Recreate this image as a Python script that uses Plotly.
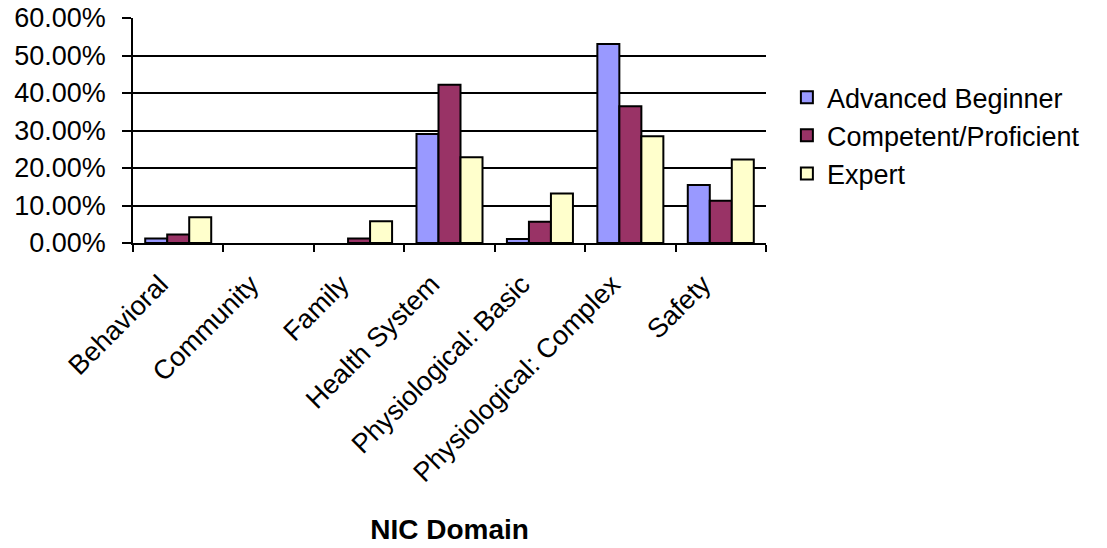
import plotly.graph_objects as go

categories = ["Behavioral", "Community", "Family", "Health System",
              "Physiological: Basic", "Physiological: Complex", "Safety"]
advanced_beginner = [0.012, 0.0, 0.0, 0.291, 0.011, 0.531, 0.155]
competent_proficient = [0.023, 0.0, 0.012, 0.422, 0.057, 0.365, 0.113]
expert = [0.069, 0.0, 0.058, 0.229, 0.132, 0.285, 0.223]
series_names = ["Advanced Beginner", "Competent/Proficient", "Expert"]
y_ticks = [0, 0.1, 0.2, 0.3, 0.4, 0.5, 0.6]

colors = ["#9999FF", "#993366", "#FFFFCC"]
font_family = "Liberation Sans, Arial, sans-serif"
FS = 27

fig = go.Figure()
for name, vals, col in zip(series_names, [advanced_beginner, competent_proficient, expert], colors):
    widths = [2 if v > 0 else 0 for v in vals]
    fig.add_trace(go.Bar(
        x=categories, y=vals, name=name, legendgroup=name,
        marker=dict(color=col, line=dict(color="black", width=widths)),
    ))

fig.update_layout(
    width=1107, height=548,
    margin=dict(l=133, r=341, t=18, b=305, autoexpand=False),
    paper_bgcolor="white", plot_bgcolor="white",
    barmode="group", bargap=0.27, bargroupgap=0,
    font=dict(family=font_family, size=FS, color="black"),
    legend=dict(x=1.033, y=0.755, xanchor="left", yanchor="top",
                font=dict(size=FS), tracegroupgap=0, traceorder="grouped",
                bgcolor="rgba(0,0,0,0)"),
    xaxis=dict(
        type="category", tickangle=-45, tickson="boundaries",
        ticks="outside", ticklen=7, tickwidth=1.5, tickcolor="black",
        showline=True, linecolor="black", linewidth=1.5,
        showgrid=False, automargin=False,
        tickfont=dict(size=FS), ticklabelshift=-18, ticklabelstandoff=13,
        title=dict(text="<b>NIC Domain</b>", font=dict(size=28), standoff=33),
    ),
    yaxis=dict(
        range=[0, 0.6], tickvals=y_ticks, tickformat=".2%",
        ticks="outside", ticklen=9, tickwidth=1.5, tickcolor="black",
        showline=True, linecolor="black", linewidth=1.5,
        showgrid=True, gridcolor="black", gridwidth=1.5,
        zeroline=False, automargin=False,
        tickfont=dict(size=FS), ticklabelstandoff=11,
    ),
)

fig.write_html("out.html")
